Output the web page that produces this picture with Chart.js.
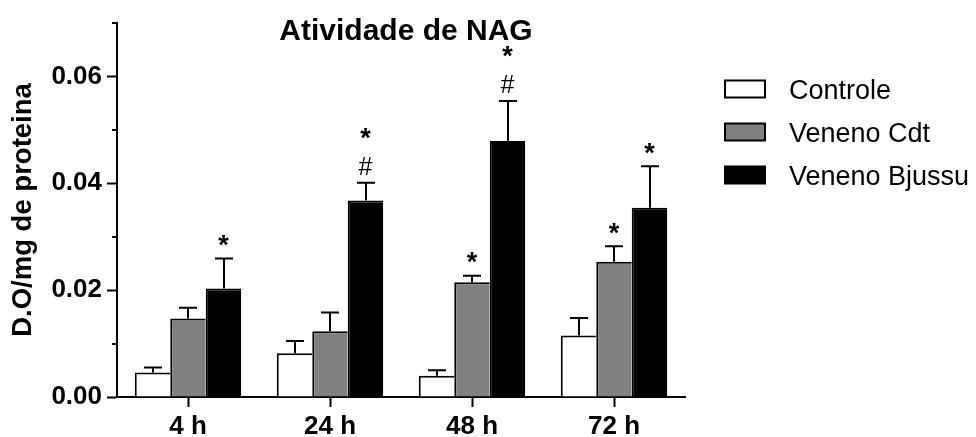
<!DOCTYPE html>
<html>
<head>
<meta charset="utf-8">
<title>Atividade de NAG</title>
<script src="https://cdn.jsdelivr.net/npm/chart.js@4.4.1/dist/chart.umd.min.js"></script>
<style>
  html, body { margin: 0; padding: 0; background: #fff; }
  #wrap { width: 976px; height: 437px; }
</style>
</head>
<body>
<div id="wrap"><canvas id="nag" width="976" height="437"></canvas></div>
<script>
// Time points
const groups = ['4 h', '24 h', '48 h', '72 h'];

// Mean OD/mg protein and SEM per group
const controle    = [0.0046, 0.0082, 0.0040, 0.0115];
const controleErr = [0.0009, 0.0023, 0.0010, 0.0033];

const cdt    = [0.0147, 0.0123, 0.0215, 0.0253];
const cdtErr = [0.0020, 0.0035, 0.0012, 0.0029];

const bjussu    = [0.0203, 0.0368, 0.0479, 0.0354];
const bjussuErr = [0.0056, 0.0033, 0.0075, 0.0078];

// Significance marks: '*' vs control, '#' vs Cdt venom
const controleMarks = ['', '', '', ''];
const cdtMarks      = ['', '', '*', '*'];
const bjussuMarks   = ['*', '*#', '*#', '*'];

// Y axis ticks
const yMin = 0, yMax = 0.07, yStep = 0.01;

const FONT = "'Liberation Sans', Arial, Helvetica, sans-serif";
Chart.defaults.font.family = FONT;
Chart.defaults.color = '#000';

const isMajor = v => Math.round(v / yStep) % 2 === 0;

// Upward SEM whiskers
const errorBars = {
  id: 'errorBars',
  afterDatasetsDraw(chart) {
    const ctx = chart.ctx;
    const y = chart.scales.y;
    ctx.save();
    ctx.strokeStyle = '#000';
    ctx.lineWidth = 2;
    chart.data.datasets.forEach((ds, i) => {
      const meta = chart.getDatasetMeta(i);
      meta.data.forEach((bar, j) => {
        const top = y.getPixelForValue(ds.data[j] + ds.errors[j]);
        const x = Math.round(bar.x);
        ctx.beginPath();
        ctx.moveTo(x, bar.y);
        ctx.lineTo(x, top);
        ctx.moveTo(x - 9, top);
        ctx.lineTo(x + 9, top);
        ctx.stroke();
      });
    });
    ctx.restore();
  }
};

// '*' and '#' above the whiskers
const marks = {
  id: 'marks',
  afterDatasetsDraw(chart) {
    const ctx = chart.ctx;
    const y = chart.scales.y;
    ctx.save();
    ctx.fillStyle = '#000';
    ctx.textAlign = 'center';
    ctx.textBaseline = 'middle';
    chart.data.datasets.forEach((ds, i) => {
      const meta = chart.getDatasetMeta(i);
      meta.data.forEach((bar, j) => {
        const m = ds.marks[j];
        if (!m) return;
        const top = y.getPixelForValue(ds.data[j] + ds.errors[j]);
        let cy = top;
        if (m.includes('#')) {
          cy -= 15;
          ctx.font = `25px ${FONT}`;
          ctx.fillText('#', bar.x, cy);
          cy -= 28;
        } else {
          cy -= 12;
        }
        if (m.includes('*')) {
          ctx.font = `bold 27px ${FONT}`;
          ctx.fillText('*', bar.x, cy);
        }
      });
    });
    ctx.restore();
  }
};

// Short unlabelled ticks at the odd hundredths
const minorTicks = {
  id: 'minorTicks',
  afterDraw(chart) {
    const ctx = chart.ctx;
    const y = chart.scales.y;
    const left = chart.chartArea.left;
    ctx.save();
    ctx.strokeStyle = '#000';
    ctx.lineWidth = 2;
    y.ticks.forEach(t => {
      if (isMajor(t.value)) return;
      const py = Math.round(y.getPixelForValue(t.value));
      ctx.beginPath();
      ctx.moveTo(left - 5, py);
      ctx.lineTo(left, py);
      ctx.stroke();
    });
    ctx.restore();
  }
};

// Title inside the plot area and the legend at the right
const titleAndLegend = {
  id: 'titleAndLegend',
  afterDraw(chart) {
    const ctx = chart.ctx;
    const ca = chart.chartArea;
    ctx.save();
    ctx.fillStyle = '#000';
    ctx.font = `bold 30px ${FONT}`;
    ctx.textAlign = 'center';
    ctx.textBaseline = 'alphabetic';
    ctx.fillText('Atividade de NAG', (ca.left + ca.right) / 2 + 5, 40);

    const bx = 725, bw = 40, bh = 17, y0 = 89, gap = 43;
    ctx.textAlign = 'left';
    ctx.textBaseline = 'middle';
    ctx.font = `27px ${FONT}`;
    chart.data.datasets.forEach((ds, i) => {
      const cy = y0 + i * gap;
      ctx.fillStyle = ds.backgroundColor;
      ctx.fillRect(bx, cy - bh / 2, bw, bh);
      ctx.strokeStyle = '#000';
      ctx.lineWidth = 2;
      ctx.strokeRect(bx, cy - bh / 2, bw, bh);
      ctx.fillStyle = '#000';
      ctx.fillText(ds.label, 789, cy + 3);
    });
    ctx.restore();
  }
};

const barBorder = { top: 2, left: 2, right: 0, bottom: 0 };

new Chart(document.getElementById('nag'), {
  type: 'bar',
  data: {
    labels: groups,
    datasets: [
      { label: 'Controle', data: controle, errors: controleErr, marks: controleMarks,
        backgroundColor: '#ffffff', borderColor: '#000', borderWidth: barBorder, borderSkipped: false },
      { label: 'Veneno Cdt', data: cdt, errors: cdtErr, marks: cdtMarks,
        backgroundColor: '#808080', borderColor: '#000', borderWidth: barBorder, borderSkipped: false },
      { label: 'Veneno Bjussu', data: bjussu, errors: bjussuErr, marks: bjussuMarks,
        backgroundColor: '#000000', borderColor: '#000', borderWidth: barBorder, borderSkipped: false }
    ]
  },
  options: {
    responsive: false,
    animation: false,
    devicePixelRatio: 1,
    categoryPercentage: 0.75,
    barPercentage: 1.0,
    layout: { padding: { left: 0, top: 23, right: 291, bottom: 0 } },
    plugins: {
      legend: { display: false },
      title: { display: false },
      tooltip: { enabled: false }
    },
    scales: {
      x: {
        afterFit(scale) { scale.height = 40; },
        grid: { display: true, drawOnChartArea: false, drawTicks: true, tickLength: 10,
                offset: false, tickWidth: 2, tickColor: '#000' },
        border: { display: true, color: '#000', width: 2 },
        ticks: { color: '#000', padding: 7, font: { size: 26, weight: 'bold', lineHeight: 1 } }
      },
      y: {
        min: yMin,
        max: yMax,
        afterFit(scale) { scale.width = 117; },
        afterBuildTicks(scale) {
          const t = [];
          for (let k = 0; k <= Math.round((yMax - yMin) / yStep); k++) {
            t.push({ value: +(yMin + k * yStep).toFixed(2) });
          }
          scale.ticks = t;
        },
        grid: { display: true, drawOnChartArea: false, drawTicks: true, tickLength: 10, tickWidth: 2,
                tickColor: ctx => (ctx.tick && isMajor(ctx.tick.value)) ? '#000' : 'rgba(0,0,0,0)' },
        border: { display: true, color: '#000', width: 2 },
        ticks: {
          color: '#000',
          padding: 5,
          font: { size: 26, weight: 'bold' },
          callback: v => isMajor(v) ? v.toFixed(2) : ''
        },
        title: {
          display: true,
          text: 'D.O/mg de proteina',
          color: '#000',
          padding: { top: 7, bottom: 4 },
          font: { size: 27.5, weight: 'bold' }
        }
      }
    }
  },
  plugins: [errorBars, marks, minorTicks, titleAndLegend]
});
</script>
</body>
</html>
